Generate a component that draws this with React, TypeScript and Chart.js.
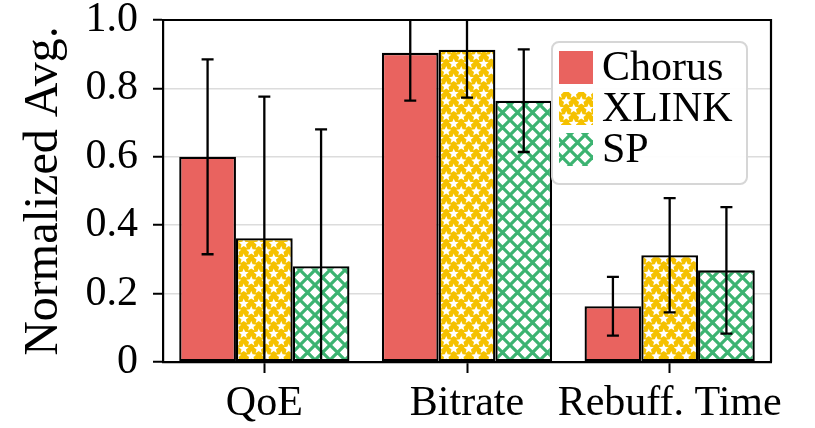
import React, { useEffect, useRef } from "react";
import { Chart, registerables } from "chart.js";

Chart.register(...registerables);

const categories = ["QoE", "Bitrate", "Rebuff. Time"];
const seriesNames = ["Chorus", "XLINK", "SP"];
const chorusValues = [0.6, 0.904, 0.163];
const chorusErrors = [0.285, 0.14, 0.086];
const xlinkValues = [0.362, 0.913, 0.312];
const xlinkErrors = [0.414, 0.14, 0.167];
const spValues = [0.28, 0.764, 0.268];
const spErrors = [0.4, 0.15, 0.185];
const yTicks = [0, 0.2, 0.4, 0.6, 0.8, 1.0];

const RED = "#E9635F";
const GOLD = "#F5C100";
const GREEN = "#3CB371";
const FONT = "'Liberation Serif', 'Times New Roman', Times, serif";

function drawStar(ctx: CanvasRenderingContext2D, cx: number, cy: number, R: number) {
  const r = R * 0.45;
  ctx.beginPath();
  for (let i = 0; i < 10; i++) {
    const ang = -Math.PI / 2 + (i * Math.PI) / 5;
    const rad = i % 2 === 0 ? R : r;
    const x = cx + rad * Math.cos(ang);
    const y = cy + rad * Math.sin(ang);
    if (i === 0) ctx.moveTo(x, y);
    else ctx.lineTo(x, y);
  }
  ctx.closePath();
  ctx.fill();
}

function makeStarPattern(ctx: CanvasRenderingContext2D) {
  const c = document.createElement("canvas");
  const s = 15;
  c.width = s;
  c.height = s;
  const g = c.getContext("2d")!;
  g.fillStyle = GOLD;
  g.fillRect(0, 0, s, s);
  g.fillStyle = "#ffffff";
  const h = s / 2;
  const base = [
    [h / 2, h / 2],
    [h / 2 + h, h / 2 + h],
  ];
  base.forEach(([x, y]) => {
    for (let dx = -1; dx <= 1; dx++)
      for (let dy = -1; dy <= 1; dy++) drawStar(g, x + dx * s, y + dy * s, 5.2);
  });
  return ctx.createPattern(c, "repeat")!;
}

function makeCrossPattern(ctx: CanvasRenderingContext2D) {
  const c = document.createElement("canvas");
  const s = 15;
  c.width = s;
  c.height = s;
  const g = c.getContext("2d")!;
  g.fillStyle = "#ffffff";
  g.fillRect(0, 0, s, s);
  g.strokeStyle = GREEN;
  g.lineWidth = 3.2;
  g.beginPath();
  for (let k = -1; k <= 1; k++) {
    g.moveTo(k * s, 0);
    g.lineTo(k * s + s, s);
    g.moveTo(k * s + s, 0);
    g.lineTo(k * s, s);
  }
  g.stroke();
  return ctx.createPattern(c, "repeat")!;
}

export default function App() {
  const ref = useRef<HTMLCanvasElement>(null);

  useEffect(() => {
    const canvas = ref.current!;
    const ctx = canvas.getContext("2d")!;
    const starPat = makeStarPattern(ctx);
    const crossPat = makeCrossPattern(ctx);
    const fills = [RED, starPat, crossPat];
    const errors = [chorusErrors, xlinkErrors, spErrors];

    const errorBarPlugin = {
      id: "errorBars",
      afterDatasetsDraw(chart: any) {
        const c = chart.ctx;
        const area = chart.chartArea;
        const yScale = chart.scales.y;
        c.save();
        c.beginPath();
        c.rect(area.left, area.top - 1, area.right - area.left, area.bottom - area.top + 2);
        c.clip();
        c.strokeStyle = "#000";
        c.lineWidth = 2.3;
        chart.data.datasets.forEach((ds: any, i: number) => {
          const meta = chart.getDatasetMeta(i);
          meta.data.forEach((el: any, j: number) => {
            const v = ds.data[j];
            const e = errors[i][j];
            const x = el.x;
            const yHi = yScale.getPixelForValue(v + e);
            const yLo = yScale.getPixelForValue(v - e);
            c.beginPath();
            c.moveTo(x, yHi);
            c.lineTo(x, yLo);
            c.moveTo(x - 6, yHi);
            c.lineTo(x + 6, yHi);
            c.moveTo(x - 6, yLo);
            c.lineTo(x + 6, yLo);
            c.stroke();
          });
        });
        c.restore();
      },
      afterDraw(chart: any) {
        const c = chart.ctx;
        const a = chart.chartArea;
        c.save();
        c.strokeStyle = "#000";
        c.lineWidth = 2.2;
        c.beginPath();
        c.moveTo(a.left, a.top);
        c.lineTo(a.right, a.top);
        c.lineTo(a.right, a.bottom);
        c.stroke();

        // legend
        const bw = 195;
        const bh = 142;
        const bx = a.right - 24 - bw;
        const by = a.top + 22;
        c.beginPath();
        c.roundRect(bx, by, bw, bh, 7);
        c.fillStyle = "rgba(255,255,255,0.92)";
        c.fill();
        c.strokeStyle = "#d6d6d6";
        c.lineWidth = 2;
        c.stroke();
        c.font = `42px ${FONT}`;
        c.textBaseline = "middle";
        c.textAlign = "left";
        seriesNames.forEach((name, i) => {
          const sy = by + 9 + i * 41;
          c.fillStyle = fills[i] as any;
          c.fillRect(bx + 7, sy, 34, 33);
          c.fillStyle = "#000";
          c.fillText(name, bx + 50, sy + 18);
        });
        c.restore();
      },
    };

    const chart = new Chart(ctx, {
      type: "bar",
      data: {
        labels: categories,
        datasets: [
          { label: seriesNames[0], data: chorusValues, backgroundColor: fills[0] as any },
          { label: seriesNames[1], data: xlinkValues, backgroundColor: fills[1] as any },
          { label: seriesNames[2], data: spValues, backgroundColor: fills[2] as any },
        ].map((d) => ({
          ...d,
          borderColor: "#000",
          borderWidth: 2.3,
          borderSkipped: false,
          categoryPercentage: 0.84,
          barPercentage: 1.0,
        })),
      },
      options: {
        responsive: false,
        animation: false,
        events: [],
        layout: { padding: { left: 0, right: 44, top: 20, bottom: 0 } },
        plugins: {
          legend: { display: false },
          tooltip: { enabled: false },
        },
        scales: {
          x: {
            offset: true,
            grid: {
              offset: false,
              drawOnChartArea: false,
              tickColor: "#000",
              tickLength: 11,
              tickWidth: 2,
            },
            border: { color: "#000", width: 2.2 },
            ticks: {
              color: "#000",
              font: { family: FONT, size: 42 },
              padding: 6,
              maxRotation: 0,
              autoSkip: false,
            },
            afterFit(scale: any) {
              scale.height = 66;
              scale.paddingLeft = 0;
              scale.paddingRight = 0;
            },
          },
          y: {
            min: 0,
            max: 1,
            afterBuildTicks(scale: any) {
              scale.ticks = yTicks.map((v) => ({ value: v }));
            },
            grid: {
              color: (c: any) => (c.tick && (c.tick.value === 0 || c.tick.value === 1) ? "rgba(0,0,0,0)" : "#dcdcdc"),
              lineWidth: 1.5,
              tickColor: "#000",
              tickLength: 10,
              tickWidth: 2,
            },
            border: { color: "#000", width: 2.2 },
            ticks: {
              color: "#000",
              font: { family: FONT, size: 42 },
              padding: 15,
              callback: (v: any) => (Number(v) === 0 ? "0" : Number(v).toFixed(1)),
            },
            title: {
              display: true,
              text: "Normalized Avg.",
              color: "#000",
              font: { family: FONT, size: 48 },
              padding: { top: 16, bottom: 0 },
            },
            afterFit(scale: any) {
              scale.width = 163;
              scale.paddingTop = 0;
              scale.paddingBottom = 0;
            },
          },
        },
      },
      plugins: [errorBarPlugin],
    });

    return () => chart.destroy();
  }, []);

  return (
    <div style={{ position: "absolute", left: 0, top: 0, width: 815, height: 428, background: "#fff" }}>
      <canvas ref={ref} width={815} height={428} style={{ display: "block" }} />
    </div>
  );
}
